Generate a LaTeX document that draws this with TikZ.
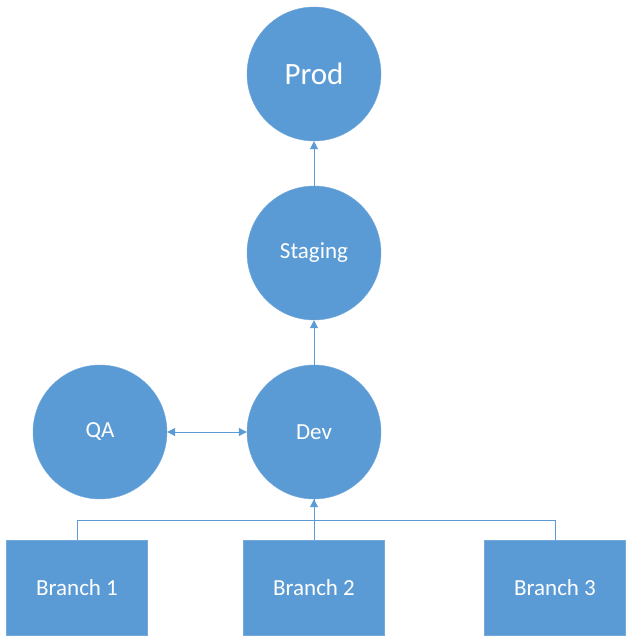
\documentclass[tikz,border=0pt]{standalone}
\usepackage{fontspec}
\setmainfont{Carlito}
\usetikzlibrary{arrows.meta, positioning}

\definecolor{officeblue}{HTML}{5B9BD5}

\begin{document}
\begin{tikzpicture}[x=1pt, y=-1pt,
  env/.style={circle, fill=officeblue, draw=officeblue!85!white, minimum size=134pt,
              inner sep=0pt, text=white, font=\fontsize{23}{27}\selectfont},
  branch/.style={rectangle, fill=officeblue, draw=officeblue!85!white, minimum width=141pt,
                 minimum height=95pt, text=white, font=\fontsize{23}{27}\selectfont},
  arrow/.style={-{Triangle[length=8pt, width=8pt]}, officeblue, line width=1pt},
  doublearrow/.style={{Triangle[length=8pt, width=8pt]}-{Triangle[length=8pt, width=8pt]}, officeblue, line width=1pt},
  link/.style={officeblue, line width=1pt}
]
\useasboundingbox (0,0) rectangle (632,644);

% Environments
\node[env, font=\fontsize{31}{35}\selectfont] (prod) at (314,74) {Prod};
\node[env] (staging) at (314,253) {Staging};
\node[env] (dev) at (314,432) {Dev};
\node[env] (qa) at (100,432) {QA};

% Branches
\node[branch] (b1) at (77,588) {Branch 1};
\node[branch] (b2) at (314,588) {Branch 2};
\node[branch] (b3) at (555,588) {Branch 3};

% Promotion arrows
\draw[arrow] (staging.north) -- (prod.south);
\draw[arrow] (dev.north) -- (staging.south);
\draw[doublearrow] (qa.east) -- (dev.west);

% Merges into Dev
\draw[arrow] (b2.north) -- (dev.south);
\draw[link] (b1.north) -- ++(0,-20) -| (dev.south);
\draw[link] (b3.north) -- ++(0,-20) -| (dev.south);

\end{tikzpicture}
\end{document}
